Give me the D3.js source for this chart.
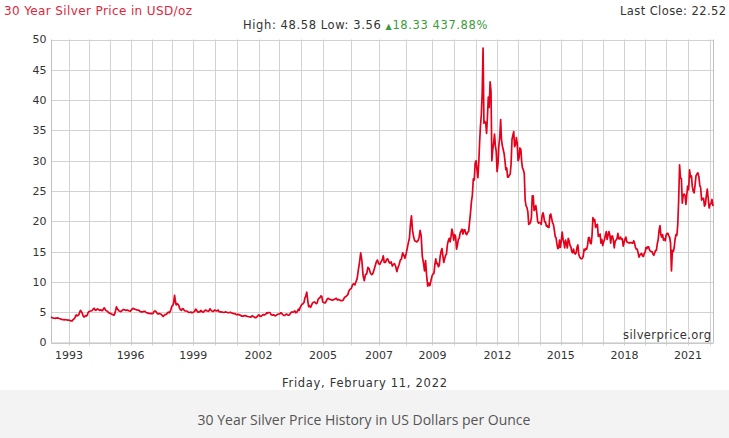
<!DOCTYPE html>
<html><head><meta charset="utf-8">
<script src="https://cdn.jsdelivr.net/npm/d3@7"></script>
<style>
html,body{margin:0;padding:0;background:#fff;}
svg{display:block;}
</style></head>
<body>
<svg id="chart" width="729" height="438"></svg>
<script>
// ---- DATA ----
// Silver price (USD/oz), two samples per month (11th and 26th); 1992 starts in February, 2022 ends Feb 11.
const firstYear = 1992;
const prices1990s = [
  [4.19,4.12,4.08,4.02,4.00,3.98,4.05,4.02,4.06,4.00,3.95,3.92,3.85,3.80,3.78,3.76,3.74,3.78,3.75,3.72,3.70,3.68],
  [3.66,3.62,3.58,3.56,3.72,3.85,3.95,4.30,4.55,4.40,4.45,4.60,4.95,5.30,5.10,4.85,4.40,4.20,4.30,4.45,4.35,4.55,4.95,5.10],
  [5.15,5.20,5.25,5.35,5.50,5.65,5.40,5.30,5.45,5.55,5.45,5.35,5.30,5.40,5.25,5.30,5.65,5.70,5.40,5.25,5.20,5.05,4.90,4.85],
  [4.80,4.70,4.65,4.55,4.50,4.75,5.30,5.90,5.55,5.40,5.20,5.15,5.10,5.20,5.35,5.45,5.40,5.35,5.30,5.35,5.35,5.25,5.20,5.15],
  [5.35,5.50,5.65,5.55,5.50,5.45,5.40,5.35,5.35,5.30,5.15,5.05,5.05,5.05,5.10,5.15,5.10,4.95,4.90,4.85,4.80,4.80,4.75,4.80],
  [4.75,4.80,5.10,5.20,5.20,5.00,4.80,4.70,4.80,4.75,4.70,4.60,4.40,4.30,4.50,4.60,4.60,4.70,4.90,5.00,4.90,5.10,5.50,6.00],
  [6.10,6.50,7.80,6.80,6.20,6.40,6.30,6.10,5.60,5.40,5.30,5.60,5.55,5.35,5.20,5.20,5.20,5.10,5.00,4.95,5.00,5.00,4.90,4.95],
  [5.05,5.15,5.50,5.40,5.10,5.00,5.10,5.05,5.30,5.15,5.00,5.05,5.25,5.35,5.30,5.20,5.15,5.25,5.55,5.35,5.20,5.15,5.15,5.35]
];
const prices2000s = [
  [5.30,5.20,5.25,5.35,5.10,5.05,5.05,5.00,5.00,4.95,5.00,5.05,5.00,4.95,4.90,4.95,5.00,4.90,4.85,4.80,4.75,4.75,4.65,4.60],
  [4.65,4.60,4.55,4.50,4.40,4.35,4.35,4.40,4.45,4.40,4.35,4.30,4.25,4.25,4.20,4.20,4.40,4.35,4.25,4.15,4.10,4.15,4.30,4.50],
  [4.55,4.35,4.30,4.40,4.55,4.60,4.55,4.60,4.70,4.90,4.85,4.95,4.95,4.90,4.60,4.55,4.50,4.60,4.45,4.40,4.50,4.60,4.65,4.70],
  [4.70,4.90,4.85,4.65,4.55,4.45,4.50,4.65,4.70,4.55,4.50,4.55,4.80,5.00,5.00,5.00,5.10,5.20,4.90,4.95,5.20,5.50,5.30,5.80],
  [6.10,6.30,6.40,6.60,7.30,7.70,8.30,7.00,5.90,6.10,5.80,6.10,6.50,6.60,6.70,6.60,6.40,6.50,7.10,7.30,7.40,7.70,7.60,6.70],
  [6.60,6.50,6.80,7.20,7.30,7.10,7.10,7.00,7.00,7.10,7.20,7.30,7.00,7.10,7.00,6.90,6.90,7.00,7.40,7.55,7.70,7.90,8.50,8.80],
  [8.90,9.50,9.70,9.50,10.00,10.50,12.00,13.20,14.80,13.50,11.00,10.20,11.20,11.30,12.40,12.20,11.50,11.20,11.30,11.90,12.60,13.30,13.60,13.00],
  [12.90,13.30,13.60,14.30,13.20,13.20,13.70,13.80,13.30,13.10,13.30,12.60,12.90,13.00,12.50,11.70,12.40,12.90,13.60,13.80,14.80,14.40,13.90,14.60],
  [15.50,16.40,17.20,19.50,20.90,18.50,17.40,16.80,16.70,16.60,16.80,17.30,18.50,17.60,14.20,13.20,11.80,13.50,11.00,9.30,9.80,9.40,10.20,11.00],
  [11.30,11.40,12.90,13.80,13.00,13.10,12.50,12.70,14.20,15.00,15.50,14.30,13.20,13.80,14.40,14.60,16.20,16.80,17.20,16.60,17.50,18.70,18.10,16.90]
];
const prices2010s = [
  [17.80,17.50,15.40,16.10,17.00,17.20,18.10,18.40,18.70,17.90,18.60,18.60,18.00,17.80,18.20,18.30,19.90,21.40,23.20,24.30,27.00,26.80,29.60,30.00],
  [28.50,27.20,29.80,33.20,35.60,37.50,41.20,48.58,36.20,36.50,36.20,34.50,37.20,40.50,38.80,43.00,41.50,30.00,31.80,32.80,34.40,32.50,31.50,28.20],
  [29.50,32.50,34.00,36.80,33.50,32.50,31.80,31.20,30.00,28.50,28.80,27.30,27.30,27.60,27.80,29.50,33.50,34.20,34.80,32.30,32.70,33.80,32.80,30.00],
  [30.40,32.10,31.90,29.80,28.80,28.50,27.90,23.50,22.60,22.30,21.60,19.50,19.60,19.80,20.60,24.20,24.20,21.80,22.00,22.60,21.40,20.00,19.70,19.80],
  [19.80,19.50,20.90,21.40,20.90,19.90,19.90,19.20,19.30,19.00,19.00,21.00,21.20,20.50,19.80,19.50,18.60,17.50,17.30,16.30,15.50,15.60,16.90,15.70],
  [16.80,18.20,17.00,16.40,15.60,16.90,16.30,15.60,17.20,16.80,16.00,15.80,15.00,14.80,15.40,14.80,14.60,14.80,15.70,16.10,14.50,14.10,13.90,13.80],
  [13.90,14.20,15.40,15.20,15.50,15.40,16.10,17.30,17.30,16.40,16.30,17.70,20.60,20.00,20.30,19.00,19.40,19.50,17.50,17.60,17.90,16.40,17.00,16.00],
  [16.60,17.00,17.80,18.30,17.00,17.60,18.30,17.80,16.40,17.50,17.60,16.90,15.60,16.70,16.90,17.10,18.00,17.10,17.10,17.40,17.00,17.10,15.90,16.50],
  [17.10,17.40,16.60,16.50,16.50,16.40,16.50,16.50,16.40,16.40,16.80,16.40,15.70,15.40,15.40,14.80,14.10,14.40,14.60,14.70,14.30,14.20,14.70,14.90],
  [15.70,15.50,15.80,15.80,15.30,15.10,15.00,15.00,14.60,14.40,14.80,15.20,15.20,16.30,17.00,18.50,19.30,17.80,17.40,17.80,16.90,17.10,16.80,17.70]
];
const prices2020s = [
  [18.00,18.00,17.60,17.30,16.40,11.80,15.20,15.00,15.60,17.00,17.80,17.70,19.40,23.40,29.30,27.20,27.00,23.00,24.30,24.50,24.30,22.80,24.30,25.80],
  [25.20,28.50,27.30,27.50,25.80,25.00,24.70,26.00,27.50,27.80,28.00,27.40,26.00,25.50,23.50,23.80,23.80,22.50,22.80,24.20,25.30,23.80,22.20,22.80],
  [22.90,23.60,22.52]
];
// Observations per calendar year in the source feed (its x axis is spaced by observation, not by date)
const obsPerYear = [216,244,248,248,252,247,252,260,268,257,247,257,271,329,343,329,312,259,269,252,252,256,252,252,256,257,252,252,259,269,31];
const yTicks = [0,5,10,15,20,25,30,35,40,45,50];
const xTickYears = [1993,1996,1999,2002,2005,2007,2009,2012,2015,2018,2021];
const headerTitle = "30 Year Silver Price in USD/oz";
const statsText = "High: 48.58 Low: 3.56 ";
const changeText = "18.33 437.88%";
const lastCloseText = "Last Close: 22.52";
const dateText = "Friday, February 11, 2022";
const captionText = "30 Year Silver Price History in US Dollars per Ounce";
const sourceText = "silverprice.org";

// ---- BUILD SERIES ----
const rows = [...prices1990s, ...prices2000s, ...prices2010s, ...prices2020s];
const series = [];
rows.forEach((row, r) => {
  const year = firstYear + r;
  const startSlot = (year === firstYear) ? 2 : 0;
  row.forEach((v, i) => {
    const s = startSlot + i;
    series.push({date: new Date(year, Math.floor(s / 2), s % 2 ? 26 : 11), value: v});
  });
});
const startDate = series[0].date, endDate = series[series.length - 1].date;
const lastYear = firstYear + rows.length - 1;

// ---- LAYOUT ----
const svg = d3.select("#chart");
const plot = {left: 51, right: 713, top: 39.5, bottom: 342.5};

// piecewise time scale: each calendar year gets width proportional to its observation count
const domainDates = [startDate];
for (let y = firstYear + 1; y <= lastYear; y++) domainDates.push(new Date(y, 0, 1));
domainDates.push(endDate);
const total = d3.sum(obsPerYear);
let acc = 0;
const rangeVals = [plot.left];
obsPerYear.forEach(n => { acc += n; rangeVals.push(plot.left + (plot.right - plot.left) * acc / total); });
const x = d3.scaleTime().domain(domainDates).range(rangeVals);
const y = d3.scaleLinear().domain([0, 50]).range([plot.bottom, plot.top]);

const gridColor = "#d2d2d2";
const font = "'DejaVu Sans', Verdana, sans-serif";

// gray footer band
svg.append("rect").attr("x", 0).attr("y", 390).attr("width", 729).attr("height", 48).attr("fill", "#f3f3f3");

// horizontal grid
svg.append("g").selectAll("line").data(yTicks).join("line")
  .attr("x1", plot.left).attr("x2", plot.right)
  .attr("y1", d => Math.round(y(d)) + 0.5).attr("y2", d => Math.round(y(d)) + 0.5)
  .attr("stroke", gridColor).attr("stroke-width", 1);

// vertical grid (every Jan 1)
const yearStarts = d3.range(firstYear + 1, lastYear + 1).map(yy => new Date(yy, 0, 1));
svg.append("g").selectAll("line").data(yearStarts).join("line")
  .attr("x1", d => Math.round(x(d)) + 0.5).attr("x2", d => Math.round(x(d)) + 0.5)
  .attr("y1", plot.top).attr("y2", plot.bottom + 3)
  .attr("stroke", gridColor).attr("stroke-width", 1);

// border left/right/bottom
svg.append("line").attr("x1", plot.left + 0.5).attr("x2", plot.left + 0.5).attr("y1", plot.top).attr("y2", plot.bottom)
  .attr("stroke", "#c0c0c0");
svg.append("line").attr("x1", plot.right + 0.5).attr("x2", plot.right + 0.5).attr("y1", plot.top).attr("y2", plot.bottom)
  .attr("stroke", "#c0c0c0");
svg.append("line").attr("x1", plot.left).attr("x2", plot.right + 1).attr("y1", plot.bottom + 0.5).attr("y2", plot.bottom + 0.5)
  .attr("stroke", "#c0c0c0");

// y labels
svg.append("g").selectAll("text").data(yTicks).join("text")
  .attr("x", 46.5).attr("y", d => y(d)).attr("dy", "0.36em")
  .attr("text-anchor", "end").attr("font-family", font).attr("font-size", "11px").attr("fill", "#333")
  .text(d => d);

// x labels
svg.append("g").selectAll("text").data(xTickYears).join("text")
  .attr("x", d => x(new Date(d, 0, 1))).attr("y", 358.5)
  .attr("text-anchor", "middle").attr("font-family", font).attr("font-size", "11px").attr("fill", "#333")
  .text(d => d);

// price line
const line = d3.line().x(d => x(d.date)).y(d => y(d.value));
svg.append("path").datum(series).attr("d", line)
  .attr("fill", "none").attr("stroke", "#e5001c").attr("stroke-width", 1.7).attr("stroke-linejoin", "round");

// watermark
svg.append("text").attr("x", 711).attr("y", 339).attr("text-anchor", "end")
  .attr("font-family", font).attr("font-size", "11.5px").attr("fill", "#333")
  .attr("textLength", 88).attr("lengthAdjust", "spacing").text(sourceText);

// header
svg.append("text").attr("x", 4).attr("y", 14.5)
  .attr("font-family", font).attr("font-size", "12px").attr("fill", "#e0263a")
  .attr("textLength", 188).attr("lengthAdjust", "spacing").text(headerTitle);
const st = svg.append("text").attr("x", 365.5).attr("y", 29).attr("text-anchor", "middle")
  .attr("font-family", font).attr("font-size", "11.5px").attr("letter-spacing", "0.6px");
st.append("tspan").attr("fill", "#333").text(statsText);
st.append("tspan").attr("fill", "#3b9a3b").attr("font-size", "8px").text("\u25B2");
st.append("tspan").attr("fill", "#3b9a3b").text(changeText);
svg.append("text").attr("x", 726).attr("y", 15).attr("text-anchor", "end")
  .attr("font-family", font).attr("font-size", "11.5px").attr("fill", "#333")
  .attr("textLength", 106).attr("lengthAdjust", "spacing").text(lastCloseText);

// date
svg.append("text").attr("x", 364.5).attr("y", 386.5).attr("text-anchor", "middle")
  .attr("font-family", font).attr("font-size", "11.5px").attr("fill", "#333")
  .attr("textLength", 165).attr("lengthAdjust", "spacing").text(dateText);

// caption
svg.append("text").attr("x", 364).attr("y", 425).attr("text-anchor", "middle")
  .attr("font-family", "'Open Sans', sans-serif").attr("font-size", "14px").attr("fill", "#555").text(captionText);
</script>
</body></html>
